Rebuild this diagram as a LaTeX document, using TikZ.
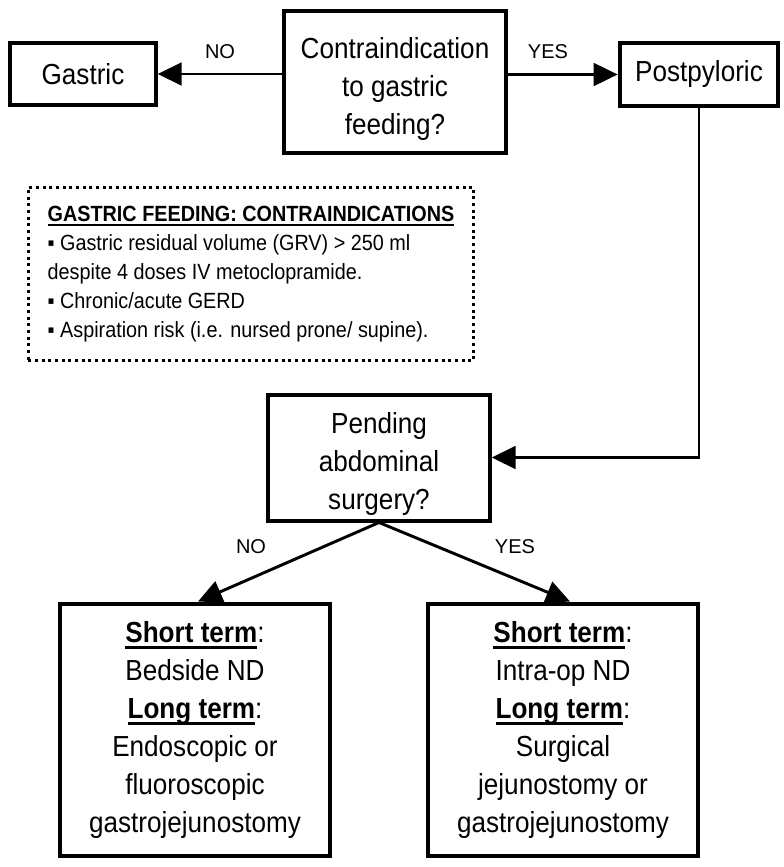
\documentclass[tikz,border=0pt]{standalone}
\usepackage{fontspec}
\setmainfont{Liberation Sans}[FakeStretch=0.9]
\newfontfamily\yesno{Liberation Sans}
\usetikzlibrary{arrows.meta}
\newcommand\ulbox[3]{\setbox0\hbox{\textbf{#3}}\rlap{\rule[#1]{\wd0}{#2}}\box0}

\begin{document}
\begin{tikzpicture}[x=0.75pt, y=-0.75pt,
   box/.style={draw, line width=3pt, fill=white, align=center, inner sep=0pt,
      font=\fontsize{21.75pt}{28.5pt}\selectfont},
   link/.style={line width=2.2pt, -{Triangle[length=18pt,width=17pt]}},
   lbl/.style={font=\yesno\fontsize{15pt}{18pt}\selectfont}]
   \useasboundingbox (0,0) rectangle (784,867);

   \node[box, minimum width=109pt, minimum height=47pt] (gastric) at (83,74) {Gastric};
   \node[box, minimum width=166pt, minimum height=106pt] (contra) at (395,82) {\rule{0pt}{26pt}Contraindication\\to gastric\\feeding?};
   \node[box, minimum width=119pt, minimum height=46.5pt] (post) at (699,74.5) {Postpyloric};

   \node[draw, line width=2.25pt, dash pattern=on 2.25pt off 2.75pt,
      minimum width=334pt, minimum height=130pt, align=left, inner sep=0pt,
      font=\fontsize{16.5pt}{21.75pt}\selectfont] (ci) at (251,274)
      {\ulbox{-3.7pt}{1.4pt}{GASTRIC FEEDING: CONTRAINDICATIONS}\\
       ▪ Gastric residual volume (GRV) > 250 ml\\
       despite 4 doses IV metoclopramide.\\
       ▪ Chronic/acute GERD\\
       ▪ Aspiration risk (i.e. nursed prone/ supine).};

   \node[box, minimum width=166pt, minimum height=94.5pt] (pend) at (379,457.5) {\rule{0pt}{26pt}Pending\\abdominal\\surgery?};

   \node[box, minimum width=203pt, minimum height=189pt] (nd) at (195,729.5)
      {\ulbox{-5.2pt}{2.2pt}{Short term}:\\Bedside ND\\\ulbox{-5.2pt}{2.2pt}{Long term}:\\Endoscopic or\\fluoroscopic\\gastrojejunostomy};
   \node[box, minimum width=202pt, minimum height=189pt] (op) at (563,729.5)
      {\ulbox{-5.2pt}{2.2pt}{Short term}:\\Intra-op ND\\\ulbox{-5.2pt}{2.2pt}{Long term}:\\Surgical\\jejunostomy or\\gastrojejunostomy};

   \draw[link] (contra.west |- gastric.east) -- (gastric.east);
   \draw[link] (contra.east |- post.west) -- (post.west);
   \draw[link] (post.south) |- (pend.east);
   \draw[link] (pend.south) -- ([xshift=2.25pt]nd.north);
   \draw[link] (pend.south) -- ([xshift=5.25pt]op.north);

   \node[lbl] (no1) at (220,52) {NO};
   \node[lbl] (yes1) at (548,52) {YES};
   \node[lbl] (no2) at (251,547) {NO};
   \node[lbl] (yes2) at (515,547) {YES};

\end{tikzpicture}
\end{document}
